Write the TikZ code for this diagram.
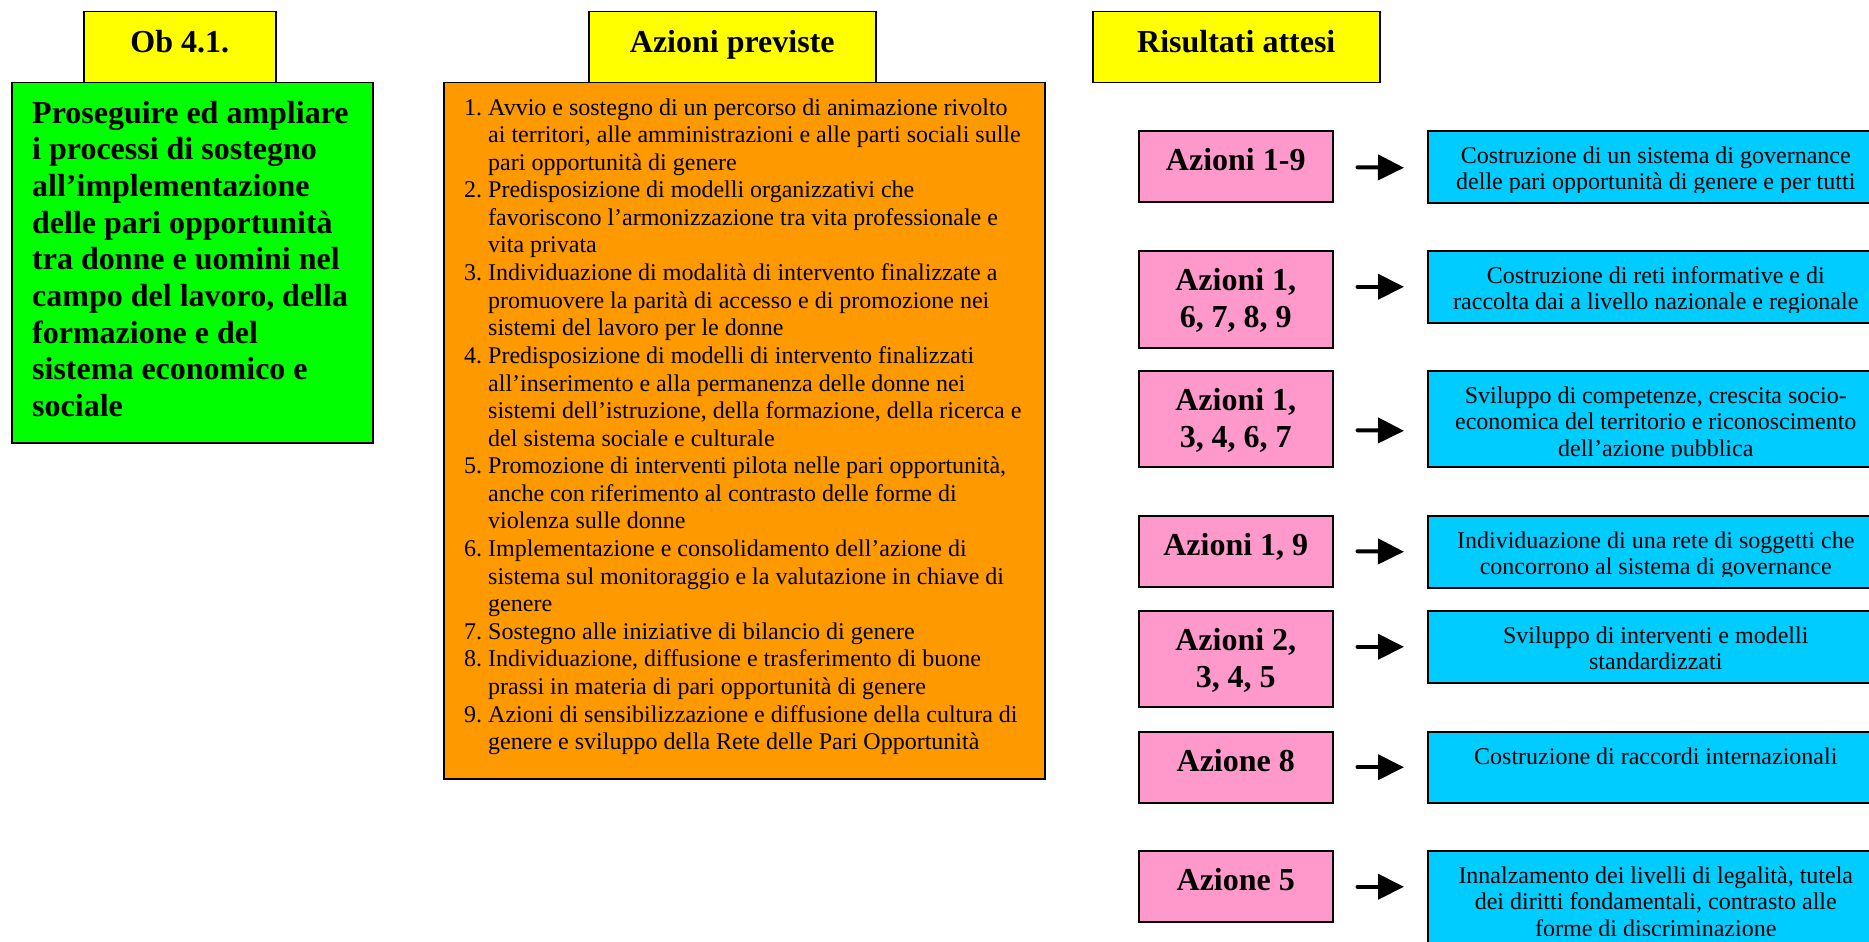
\documentclass[tikz,border=0pt]{standalone}
\usepackage{fontspec}
\setmainfont{Liberation Serif}[BoldFont={Liberation Serif Bold}]
\usetikzlibrary{arrows.meta}
\definecolor{cyel}{HTML}{FFFF00}
\definecolor{cgreen}{HTML}{00FF00}
\definecolor{corange}{HTML}{FF9900}
\definecolor{cpink}{HTML}{FF99CC}
\definecolor{ccyan}{HTML}{00CCFF}
\newcommand\mltab[2]{\begin{tabular}[t]{@{}#1@{}}#2\end{tabular}}
\newcommand\nb[1]{\makebox[24pt][l]{#1}}
\begin{document}
\begin{tikzpicture}[x=1pt,y=-1pt,
  box/.style={draw=black,line width=1.5pt,inner sep=0pt,anchor=north west,minimum height=71pt},
  headbox/.style={box,fill=cyel},
  pinkbox/.style={box,fill=cpink,minimum width=194pt},
  cyanbox/.style={box,fill=ccyan,minimum width=456pt},
  txt/.style={inner sep=0pt,anchor=base},
  headtxt/.style={txt,font=\rmfamily\fontsize{32}{37}\selectfont\bfseries},
  pinktxt/.style={txt,font=\rmfamily\fontsize{32}{37}\selectfont\bfseries},
  cyantxt/.style={txt,font=\rmfamily\fontsize{24}{26.7}\selectfont},
  arr/.style={line width=4pt,line cap=round,-{Triangle[length=26pt,width=25pt]}}]
\useasboundingbox (0,0) rectangle (1869,942);
\fill[white] (0,0) rectangle (1869,942);

% headings
\node[headbox,minimum width=192pt] (ob) at (83,11) {};
\node[headtxt] (obt) at ([yshift=-42pt]ob.north) {Ob 4.1.};
\node[headbox,minimum width=287pt] (ap) at (588,11) {};
\node[headtxt] (apt) at ([yshift=-42pt]ap.north) {Azioni previste};
\node[headbox,minimum width=287pt] (ra) at (1092,11) {};
\node[headtxt] (rat) at ([yshift=-42pt]ra.north) {Risultati attesi};

% green objective
\node[box,fill=cgreen,minimum width=361pt,minimum height=360pt] (obj) at (11,82) {};
\node[inner sep=0pt,anchor=base west,font=\rmfamily\fontsize{32}{36.7}\selectfont\bfseries] (objt) at (32,123)
 {\mltab{l}{Proseguire ed ampliare\\ i processi di sostegno\\ all’implementazione\\ delle pari opportunità\\ tra donne e uomini nel\\ campo del lavoro, della\\ formazione e del\\ sistema economico e\\ sociale}};

% orange actions
\node[box,fill=corange,minimum width=601pt,minimum height=696pt] (act) at (443,82) {};
\node[inner sep=0pt,anchor=base west,font=\rmfamily\fontsize{24}{27.6}\selectfont] (actt) at (464,115)
 {\mltab{l@{}l}{%
 \nb{1.} & Avvio e sostegno di un percorso di animazione rivolto\\
 & ai territori, alle amministrazioni e alle parti sociali sulle\\
 & pari opportunità di genere\\
 \nb{2.} & Predisposizione di modelli organizzativi che\\
 & favoriscono l’armonizzazione tra vita professionale e\\
 & vita privata\\
 \nb{3.} & Individuazione di modalità di intervento finalizzate a\\
 & promuovere la parità di accesso e di promozione nei\\
 & sistemi del lavoro per le donne\\
 \nb{4.} & Predisposizione di modelli di intervento finalizzati\\
 & all’inserimento e alla permanenza delle donne nei\\
 & sistemi dell’istruzione, della formazione, della ricerca e\\
 & del sistema sociale e culturale\\
 \nb{5.} & Promozione di interventi pilota nelle pari opportunità,\\
 & anche con riferimento al contrasto delle forme di\\
 & violenza sulle donne\\
 \nb{6.} & Implementazione e consolidamento dell’azione di\\
 & sistema sul monitoraggio e la valutazione in chiave di\\
 & genere\\
 \nb{7.} & Sostegno alle iniziative di bilancio di genere\\
 \nb{8.} & Individuazione, diffusione e trasferimento di buone\\
 & prassi in materia di pari opportunità di genere\\
 \nb{9.} & Azioni di sensibilizzazione e diffusione della cultura di\\
 & genere e sviluppo della Rete delle Pari Opportunità}};

% pink boxes
\node[pinkbox] (p1) at (1138,130) {};
\node[pinkbox,minimum height=97pt] (p2) at (1138,250) {};
\node[pinkbox,minimum height=96pt] (p3) at (1138,370) {};
\node[pinkbox] (p4) at (1138,515) {};
\node[pinkbox,minimum height=96pt] (p5) at (1138,610) {};
\node[pinkbox] (p6) at (1138,731) {};
\node[pinkbox] (p7) at (1138,850) {};
\node[pinktxt] (p1t) at ([yshift=-40pt]p1.north) {Azioni 1-9};
\node[pinktxt] (p2t) at ([yshift=-40pt]p2.north) {\mltab{c}{Azioni 1,\\ 6, 7, 8, 9}};
\node[pinktxt] (p3t) at ([yshift=-40pt]p3.north) {\mltab{c}{Azioni 1,\\ 3, 4, 6, 7}};
\node[pinktxt] (p4t) at ([yshift=-40pt]p4.north) {Azioni 1, 9};
\node[pinktxt] (p5t) at ([yshift=-40pt]p5.north) {\mltab{c}{Azioni 2,\\ 3, 4, 5}};
\node[pinktxt] (p6t) at ([yshift=-40pt]p6.north) {Azione 8};
\node[pinktxt] (p7t) at ([yshift=-40pt]p7.north) {Azione 5};

% cyan boxes
\node[cyanbox,minimum height=72pt] (c1) at (1427,130) {};
\node[cyanbox,minimum height=72pt] (c2) at (1427,250) {};
\node[cyanbox,minimum height=96pt] (c3) at (1427,370) {};
\node[cyanbox,minimum height=72pt] (c4) at (1427,515) {};
\node[cyanbox,minimum height=72pt] (c5) at (1427,610) {};
\node[cyanbox,minimum height=71pt] (c6) at (1427,731) {};
\node[cyanbox,minimum height=120pt] (c7) at (1427,850) {};

\begin{scope}
\clip (c1.north west) rectangle ([yshift=11pt]c1.south east);
\node[cyantxt] (c1t) at ([yshift=-33pt]c1.north) {\mltab{c}{Costruzione di un sistema di governance\\ delle pari opportunità di genere e per tutti}};
\end{scope}
\begin{scope}
\clip (c2.north west) rectangle ([yshift=11pt]c2.south east);
\node[cyantxt] (c2t) at ([yshift=-33pt]c2.north) {\mltab{c}{Costruzione di reti informative e di\\ raccolta dai a livello nazionale e regionale}};
\end{scope}
\begin{scope}
\clip (c3.north west) rectangle ([yshift=11.5pt]c3.south east);
\node[cyantxt] (c3t) at ([yshift=-33pt]c3.north) {\mltab{c}{Sviluppo di competenze, crescita socio-\\ economica del territorio e riconoscimento\\ dell’azione pubblica}};
\end{scope}
\begin{scope}
\clip (c4.north west) rectangle ([yshift=12pt]c4.south east);
\node[cyantxt] (c4t) at ([yshift=-33pt]c4.north) {\mltab{c}{Individuazione di una rete di soggetti che\\ concorrono al sistema di governance}};
\end{scope}
\begin{scope}
\clip (c5.north west) rectangle ([yshift=11pt]c5.south east);
\node[cyantxt] (c5t) at ([yshift=-33pt]c5.north) {\mltab{c}{Sviluppo di interventi e modelli\\ standardizzati}};
\end{scope}
\begin{scope}
\clip (c6.north west) rectangle ([yshift=11pt]c6.south east);
\node[cyantxt] (c6t) at ([yshift=-33pt]c6.north) {Costruzione di raccordi internazionali};
\end{scope}
\begin{scope}
\clip (c7.north west) rectangle ([yshift=36pt]c7.south east);
\node[cyantxt] (c7t) at ([yshift=-33pt]c7.north) {\mltab{c}{Innalzamento dei livelli di legalità, tutela\\ dei diritti fondamentali, contrasto alle\\ forme di discriminazione}};
\end{scope}

% arrows
\draw[arr] ([xshift=24pt,yshift=-1pt]p1.east) -- ([xshift=-23pt,yshift=-1pt]c1.west);
\draw[arr] ([xshift=24pt,yshift=12.5pt]p2.east) -- ([xshift=-23pt]c2.west);
\draw[arr] ([xshift=24pt,yshift=-11.5pt]p3.east) -- ([xshift=-23pt,yshift=-12pt]c3.west);
\draw[arr] ([xshift=24pt]p4.east) -- ([xshift=-23pt]c4.west);
\draw[arr] ([xshift=24pt,yshift=12pt]p5.east) -- ([xshift=-23pt]c5.west);
\draw[arr] ([xshift=24pt]p6.east) -- ([xshift=-23pt]c6.west);
\draw[arr] ([xshift=24pt,yshift=-0.5pt]p7.east) -- ([xshift=-23pt,yshift=24pt]c7.west);
\end{tikzpicture}
\end{document}
